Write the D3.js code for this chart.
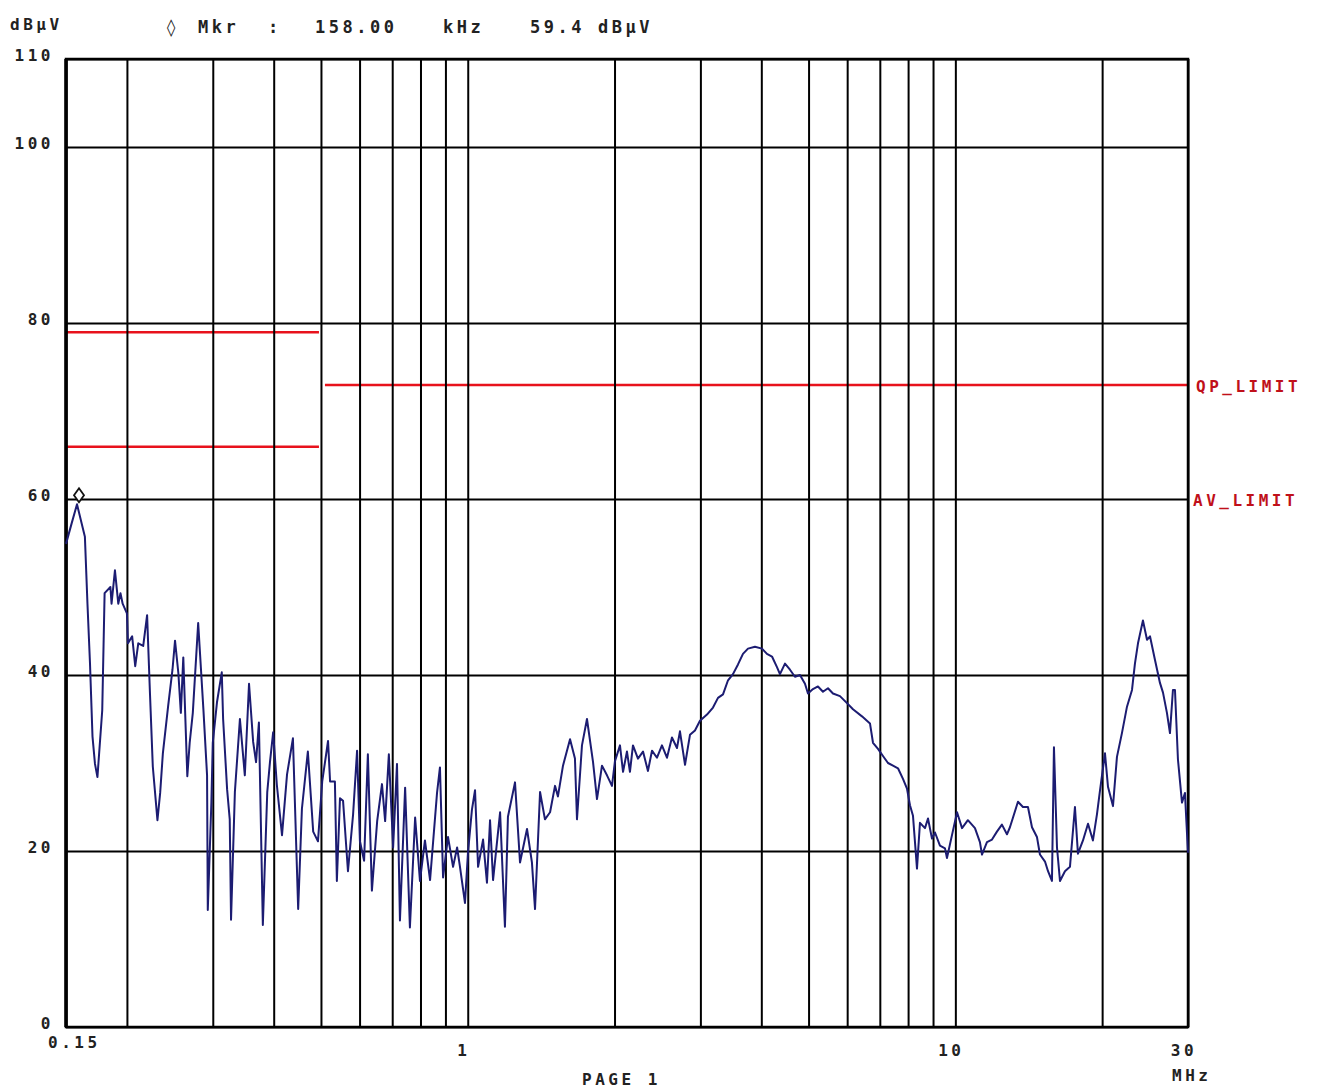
<!DOCTYPE html>
<html>
<head>
<meta charset="utf-8">
<script src="https://cdn.jsdelivr.net/npm/d3@7"></script>
<style>
  body { margin: 0; background: #fff; }
  text { font-family: "DejaVu Sans Mono", monospace; font-weight: bold; fill: #222; letter-spacing: 3.5px; }
</style>
</head>
<body>
<div id="chart"></div>
<script>
var freqMHz = [
  0.150, 0.154, 0.158, 0.164, 0.166, 0.168, 0.170, 0.172, 0.174, 0.178,
  0.180, 0.185, 0.186, 0.189, 0.192, 0.194, 0.196, 0.200, 0.201, 0.205,
  0.208, 0.211, 0.216, 0.220, 0.223, 0.226, 0.231, 0.234, 0.237, 0.243,
  0.248, 0.251, 0.255, 0.258, 0.261, 0.266, 0.269, 0.273, 0.280, 0.287,
  0.292, 0.293, 0.298, 0.300, 0.306, 0.313, 0.315, 0.321, 0.325, 0.327,
  0.333, 0.341, 0.349, 0.356, 0.363, 0.368, 0.373, 0.380, 0.388, 0.393,
  0.399, 0.406, 0.416, 0.426, 0.438, 0.449, 0.457, 0.470, 0.482, 0.493,
  0.503, 0.517, 0.522, 0.534, 0.539, 0.547, 0.555, 0.568, 0.582, 0.593,
  0.601, 0.613, 0.624, 0.636, 0.652, 0.667, 0.677, 0.689, 0.703, 0.716,
  0.726, 0.744, 0.761, 0.780, 0.798, 0.817, 0.837, 0.865, 0.877, 0.890,
  0.911, 0.933, 0.951, 0.964, 0.987, 1.001, 1.020, 1.035, 1.050, 1.075,
  1.095, 1.111, 1.127, 1.165, 1.192, 1.209, 1.250, 1.280, 1.323, 1.354,
  1.374, 1.407, 1.440, 1.475, 1.510, 1.531, 1.568, 1.621, 1.659, 1.675,
  1.715, 1.756, 1.807, 1.841, 1.885, 1.930, 1.976, 2.004, 2.052, 2.082,
  2.121, 2.151, 2.182, 2.234, 2.288, 2.342, 2.387, 2.444, 2.502, 2.562,
  2.623, 2.686, 2.724, 2.790, 2.856, 2.924, 2.994, 3.095, 3.184, 3.260,
  3.338, 3.418, 3.499, 3.583, 3.668, 3.756, 3.882, 4.013, 4.108, 4.207,
  4.307, 4.368, 4.473, 4.580, 4.689, 4.801, 4.916, 4.986, 5.105, 5.227,
  5.352, 5.480, 5.611, 5.799, 5.995, 6.167, 6.434, 6.682, 6.778, 6.940,
  7.105, 7.275, 7.449, 7.627, 7.809, 7.958, 8.071, 8.187, 8.343, 8.461,
  8.664, 8.788, 8.955, 9.083, 9.299, 9.522, 9.612, 9.842, 10.08, 10.32,
  10.61, 10.97, 11.23, 11.34, 11.61, 11.89, 12.17, 12.46, 12.76, 12.94,
  13.13, 13.44, 13.76, 14.09, 14.36, 14.70, 14.91, 15.27, 15.49, 15.78,
  15.93, 16.16, 16.39, 16.78, 17.18, 17.59, 17.84, 18.27, 18.71, 19.15,
  19.52, 19.80, 20.27, 20.56, 21.05, 21.45, 21.96, 22.49, 23.03, 23.35,
  23.69, 24.25, 24.72, 25.07, 25.67, 26.28, 26.66, 27.16, 27.55, 27.94,
  28.21, 28.61, 29.16, 29.57, 30.00
];
var levelDb = [
  54.9, 57.2, 59.4, 55.7, 48.1, 41.3, 33.0, 29.9, 28.4, 36.0,
  49.3, 50.0, 48.1, 51.9, 48.1, 49.3, 48.1, 47.0, 43.6, 44.4,
  41.0, 43.6, 43.3, 46.8, 37.9, 29.6, 23.5, 26.6, 31.1, 36.5,
  40.6, 43.9, 40.2, 35.7, 42.0, 28.5, 32.3, 35.7, 45.9, 36.1,
  28.6, 13.3, 25.5, 32.3, 36.9, 40.3, 35.0, 27.0, 23.6, 12.2,
  26.7, 35.0, 28.6, 39.0, 32.4, 30.1, 34.6, 11.6, 26.7, 30.1,
  33.5, 27.5, 21.8, 28.7, 32.8, 13.4, 24.8, 31.3, 22.2, 21.1,
  27.9, 32.5, 27.9, 27.9, 16.6, 26.0, 25.7, 17.7, 24.2, 31.4,
  21.1, 18.9, 31.0, 15.5, 23.4, 27.6, 23.4, 31.0, 20.4, 29.9,
  12.1, 27.2, 11.3, 23.8, 16.6, 21.2, 16.7, 26.6, 29.5, 17.0,
  21.6, 18.2, 20.4, 18.2, 14.1, 19.8, 24.7, 26.9, 18.2, 21.3,
  16.4, 23.5, 16.7, 24.4, 11.4, 23.9, 27.8, 18.7, 22.5, 18.7,
  13.4, 26.7, 23.6, 24.4, 27.4, 26.2, 29.7, 32.7, 30.5, 23.6,
  32.0, 35.0, 30.1, 25.9, 29.7, 28.6, 27.4, 30.2, 32.0, 29.0,
  31.3, 29.0, 32.0, 30.5, 31.3, 29.1, 31.4, 30.6, 32.0, 30.6,
  32.9, 31.7, 33.6, 29.8, 33.2, 33.7, 34.8, 35.5, 36.3, 37.4,
  37.8, 39.4, 40.1, 41.2, 42.4, 43.0, 43.2, 43.0, 42.4, 42.1,
  40.9, 40.1, 41.3, 40.6, 39.8, 40.0, 39.0, 37.9, 38.4, 38.7,
  38.1, 38.5, 37.9, 37.6, 36.8, 36.1, 35.3, 34.5, 32.3, 31.6,
  30.8, 30.0, 29.7, 29.4, 28.2, 27.1, 25.2, 24.0, 18.0, 23.2,
  22.6, 23.7, 21.4, 22.1, 20.6, 20.3, 19.2, 21.8, 24.4, 22.6,
  23.5, 22.6, 21.0, 19.6, 21.0, 21.3, 22.2, 23.0, 21.9, 22.7,
  23.8, 25.6, 25.0, 25.0, 22.7, 21.6, 19.6, 18.8, 17.7, 16.6,
  31.8, 20.4, 16.6, 17.7, 18.2, 25.0, 19.7, 21.2, 23.1, 21.2,
  24.2, 26.9, 31.1, 27.3, 25.1, 30.7, 33.4, 36.4, 38.3, 41.3,
  43.6, 46.2, 44.0, 44.4, 41.7, 39.1, 38.0, 35.7, 33.4, 38.3,
  38.3, 30.4, 25.5, 26.6, 19.8
];

// limit segments (start/end frequency in MHz)
var limitStart = [0.15, 0.5];
var limitEnd = [0.5, 30];
var qpLevels = [79, 73];
var avLevels = [66, 60];

// grid and tick labels
var gridFreqs = [0.15, 0.2, 0.3, 0.4, 0.5, 0.6, 0.7, 0.8, 0.9, 1, 2, 3, 4, 5, 6, 7, 8, 9, 10, 20, 30];
var gridLevels = [0, 20, 40, 60, 80, 100, 110];
var xLabelFreqs = [0.15, 1, 10, 30];
var xLabelText = ["0.15", "1", "10", "30"];

var markerFreq = 0.158;
var markerLevel = 59.4;

var W = 1321, H = 1090;
var plotLeft = 66, plotRight = 1188, plotTop = 59, plotBottom = 1027;

var svg = d3.select("#chart").append("svg").attr("width", W).attr("height", H);

var x = d3.scaleLog().domain([0.15, 30]).range([plotLeft, plotRight]);
var y = d3.scaleLinear().domain([0, 110]).range([plotBottom, plotTop]);

// limit lines go under the grid (a limit on a grid level hides under the grid line)
// +0.5 matches the half pixel offset d3 axes put on their ticks
var segs = d3.range(limitStart.length);
var limits = svg.append("g").attr("class", "limits");
[qpLevels, avLevels].forEach(function(levels) {
	limits.selectAll(null).data(segs).enter().append("line")
	.attr("x1", function(i) { return x(limitStart[i]) + (i == 1 ? 4 : 0); })
	.attr("x2", function(i) { return x(limitEnd[i]) - (i == 0 ? 2 : 0); })
	.attr("y1", function(i) { return y(levels[i]) + 0.5; })
	.attr("y2", function(i) { return y(levels[i]) + 0.5; })
	.attr("stroke", "#e8121c")
	.attr("stroke-width", function(i) { return gridLevels.indexOf(levels[i]) >= 0 ? 0.8 : 2.5; });
});

// vertical grid
var xGrid = d3.axisBottom(x).tickValues(gridFreqs).tickSize(-(plotBottom - plotTop)).tickFormat("");
svg.append("g").attr("transform", "translate(0," + plotBottom + ")").call(xGrid)
	.call(function(g) { g.select(".domain").remove(); })
	.selectAll("line").attr("stroke", "#000").attr("stroke-width", 2);

// horizontal grid
var yGrid = d3.axisLeft(y).tickValues(gridLevels).tickSize(-(plotRight - plotLeft)).tickFormat("");
svg.append("g").attr("transform", "translate(" + plotLeft + ",0)").call(yGrid)
	.call(function(g) { g.select(".domain").remove(); })
	.selectAll("line").attr("stroke", "#000").attr("stroke-width", 2.2);

// frame
svg.append("rect").attr("x", plotLeft).attr("y", plotTop).attr("width", plotRight - plotLeft).attr("height", plotBottom - plotTop)
	.attr("fill", "none").attr("stroke", "#000").attr("stroke-width", 2.5);
svg.append("line").attr("x1", plotLeft).attr("x2", plotLeft).attr("y1", plotTop).attr("y2", plotBottom)
	.attr("stroke", "#000").attr("stroke-width", 3.5);

// trace
var data = d3.range(freqMHz.length).map(function(i) { return {f: freqMHz[i], l: levelDb[i]}; });
var line = d3.line().x(function(d) { return x(d.f); }).y(function(d) { return y(d.l); });
svg.append("path").datum(data).attr("d", line)
	.attr("fill", "none").attr("stroke", "#1c1c72").attr("stroke-width", 2).attr("stroke-linejoin", "round");

// marker diamond above the peak
var mx = x(markerFreq) + 2, my = y(markerLevel) - 9;
svg.append("path").attr("d", "M" + mx + "," + (my - 7) + "L" + (mx + 5) + "," + my + "L" + mx + "," + (my + 7) + "L" + (mx - 5) + "," + my + "Z")
	.attr("fill", "#fff").attr("stroke", "#111").attr("stroke-width", 1.8);

// y tick labels
svg.selectAll(".ylab").data(gridLevels).enter().append("text")
	.attr("class", "ylab")
	.attr("x", 54).attr("y", function(d) { return y(d) + 2; })
	.attr("text-anchor", "end").attr("font-size", "16px")
	.text(function(d) { return d; });

// x tick labels
svg.selectAll(".xlab").data(xLabelFreqs).enter().append("text")
	.attr("class", "xlab")
	.attr("x", function(d, i) { return i == 0 ? x(d) - 18 : x(d) - 4; })
	.attr("y", function(d, i) { return i == 0 ? 1048 : 1056; })
	.attr("text-anchor", function(d, i) { return i == 0 ? "start" : "middle"; })
	.attr("font-size", "16px")
	.text(function(d, i) { return xLabelText[i]; });

svg.append("text").attr("x", 1172).attr("y", 1081).attr("font-size", "16px").text("MHz");
svg.append("text").attr("x", 582).attr("y", 1085).attr("font-size", "16px").text("PAGE 1");

// header
svg.append("text").attr("x", 10).attr("y", 30).attr("font-size", "16px").text("dBµV");
var header = [[166, "◊"], [198, "Mkr"], [268, ":"], [315, "158.00"], [443, "kHz"], [530, "59.4"], [598, "dBµV"]];
svg.selectAll(".hdr").data(header).enter().append("text")
	.attr("class", "hdr")
	.attr("x", function(d) { return d[0]; }).attr("y", 33)
	.attr("font-size", "17px")
	.text(function(d) { return d[1]; });

// limit names
svg.append("text").attr("x", 1196).attr("y", y(qpLevels[1]) + 7).attr("font-size", "16px")
	.style("fill", "#c0101a").text("QP_LIMIT");
svg.append("text").attr("x", 1193).attr("y", y(avLevels[1]) + 7).attr("font-size", "16px")
	.style("fill", "#c0101a").text("AV_LIMIT");
</script>
</body>
</html>
